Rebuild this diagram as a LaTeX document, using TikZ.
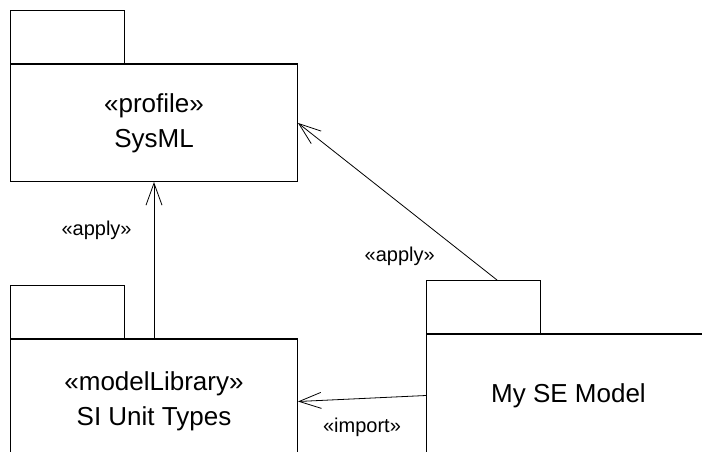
\documentclass[tikz,border=0pt]{standalone}
\usepackage{fontspec}
\setmainfont{Liberation Sans}
\usetikzlibrary{arrows.meta,calc}

\begin{document}
\begin{tikzpicture}[x=1pt, y=-1pt,
    pkg/.style={draw, line width=1pt, rectangle, inner sep=0pt, align=center,
        font=\fontsize{26}{35}\selectfont},
    pkgtab/.style={draw, line width=1pt, rectangle, inner sep=0pt,
        minimum width=114pt, minimum height=53pt, anchor=south west},
    dep/.style={line width=0.8pt, -{Straight Barb[length=22pt, width=16pt, line width=0.8pt]}},
    stereo/.style={font=\fontsize{20}{24}\selectfont, inner sep=2pt}]
    \useasboundingbox (0,0) rectangle (702,452);
    \clip (0,0) rectangle (702,452);

    % 包 SysML：上方的配置文件
    \node[pkg, anchor=north west, minimum width=287pt, minimum height=117pt] (sysml) at (10,64) {«profile»\\SysML};
    \node[pkgtab] (sysmltab) at (sysml.north west) {};

    % 包 SI Unit Types：下方被裁掉的模型库
    \node[pkg, anchor=north west, minimum width=287pt, minimum height=124pt] (silib) at (10,339) {«modelLibrary»\\SI Unit Types};
    \node[pkgtab] (silibtab) at (silib.north west) {};

    % 包 My SE Model：右下角，伸出画面
    \node[pkg, anchor=north west, minimum width=284pt, minimum height=122pt] (semodel) at (426,334) {My SE Model};
    \node[pkgtab] (semodeltab) at (semodel.north west) {};

    % 包体上边线加粗
    \foreach \p in {sysml, silib, semodel}
        \draw[line width=2pt] (\p.north west) -- (\p.north east);

    % 依赖关系：apply 与 import
    \coordinate (applyfrom) at ($(semodeltab.north west)+(71,0)$);
    \draw[dep] (silib.north) -- node[stereo, pos=0.69, left=20pt] {«apply»} (sysml.south);
    \draw[dep] (applyfrom) -- node[stereo, pos=0.15, left=30pt] {«apply»} (sysml.east);
    \draw[dep] (semodel.west) -- node[stereo, below=17pt] {«import»} (silib.east);
\end{tikzpicture}
\end{document}
